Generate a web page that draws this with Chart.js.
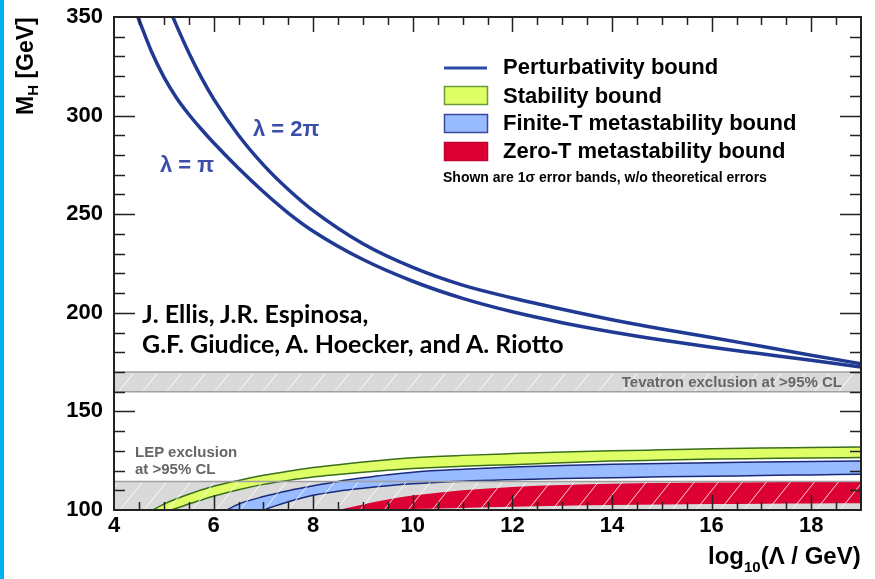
<!DOCTYPE html>
<html>
<head>
<meta charset="utf-8">
<script src="https://cdn.jsdelivr.net/npm/chart.js@4.4.1/dist/chart.umd.min.js"></script>
<style>
  html, body { margin: 0; padding: 0; background: #fff; }
  #wrap { position: relative; width: 875px; height: 579px; overflow: hidden; font-family: "Liberation Sans", Arial, sans-serif; }
  #bar { position: absolute; left: 0; top: 0; width: 4px; height: 579px; background: #00b0f0; }
  .t { position: absolute; white-space: nowrap; line-height: 1; font-weight: bold; }
  .leg { font-size: 22px; color: #000; left: 503px; }
  .grey { font-size: 15px; color: #666; }
  .lam { font-size: 22px; color: #3b4fa8; }
  .auth { font-family: Lato, "Open Sans", sans-serif; font-size: 25px; color: #000; left: 142px; }
</style>
</head>
<body>
<div id="wrap">
  <canvas id="chart" width="875" height="579"></canvas>
  <div id="bar"></div>

  <div class="t" style="left:14px; top:115px; font-size:23px; transform-origin:0 0; transform:rotate(-90deg);">M<span style="font-size:15px; position:relative; top:5px;">H</span> [GeV]</div>
  <div class="t" style="left:708px; top:544px; font-size:24px;">log<span style="font-size:15px; position:relative; top:8px;">10</span>(&Lambda; / GeV)</div>

  <div class="t leg" style="top:56px;">Perturbativity bound</div>
  <div class="t leg" style="top:85px;">Stability bound</div>
  <div class="t leg" style="top:112px;">Finite-T metastability bound</div>
  <div class="t leg" style="top:140px;">Zero-T metastability bound</div>
  <div class="t" style="left:443px; top:170px; font-size:14px;">Shown are 1&sigma; error bands, w/o theoretical errors</div>

  <div class="t lam" style="left:253px; top:118px;">&lambda; = 2&pi;</div>
  <div class="t lam" style="left:160px; top:154px;">&lambda; = &pi;</div>

  <div class="t auth" style="top:301px;">J. Ellis, J.R. Espinosa,</div>
  <div class="t auth" style="top:331px;">G.F. Giudice, A. Hoecker, and A. Riotto</div>

  <div class="t grey" style="left:135px; top:444px;">LEP exclusion</div>
  <div class="t grey" style="left:135px; top:461px;">at &gt;95% CL</div>
  <div class="t grey" style="right:33px; top:374px;">Tevatron exclusion at &gt;95% CL</div>
</div>

<script>
// axis ticks
const xTickLabels = [4, 6, 8, 10, 12, 14, 16, 18];
const yTickLabels = [100, 150, 200, 250, 300, 350];

// exclusion limits (GeV)
const lepLimit = 114.4;
const tevatronLow = 160;
const tevatronHigh = 170;

// band edges, sampled on one log10(Lambda) grid
const bandX = [4, 4.5, 5, 5.5, 6, 6.5, 7, 7.5, 8, 8.5, 9, 9.5, 10, 11, 12, 13, 14, 15, 16, 17, 18, 19];
const stabilityHigh = [90, 96, 103, 108, 112, 115, 117.6, 119.7, 121.5, 123, 124.3, 125.5, 126.5, 127.7, 128.6, 129.4, 130, 130.5, 131, 131.4, 131.7, 132];
const stabilityLow = [86, 92, 98.5, 103, 107, 110.3, 113, 115, 116.7, 118, 119.2, 120.2, 121, 122.2, 123, 124, 124.8, 125.3, 125.8, 126.1, 126.4, 126.6];
const finiteTHigh = [82, 86, 89, 92, 96.5, 103, 106.8, 109.8, 112.3, 114.5, 116.3, 117.9, 119.2, 120.7, 121.8, 122.6, 123.2, 123.6, 124, 124.3, 124.6, 124.9];
const finiteTLow = [75, 80, 84, 88, 91, 95.5, 100, 104.2, 107.5, 109.5, 111, 112.3, 113.3, 114.6, 115.4, 116, 116.4, 116.8, 117.1, 117.5, 117.8, 118.1];
const zeroTHigh = [70, 73, 76, 79, 82, 86, 89, 93, 97, 100, 102.8, 105.3, 107.3, 110, 111.7, 112.7, 113.3, 113.7, 113.9, 114.1, 114.2, 114.3];
const zeroTLow = [100, 100, 100, 100, 100, 100, 100, 100, 100, 100, 100, 100, 100.5, 101, 101.6, 102.1, 102.5, 102.8, 103, 103.2, 103.3, 103.4];

// perturbativity bounds
const pertX = [4.4, 4.5, 4.75, 5, 5.25, 5.5, 5.75, 6, 6.5, 7, 7.5, 8, 9, 10, 11, 12, 13, 14, 15, 16, 17, 18, 19];
const lambdaPi = [355, 348.6, 332.6, 319.6, 309.2, 300.7, 293.2, 286.2, 273.3, 261.4, 250.6, 241.4, 227, 216, 207.3, 200.5, 195, 190.3, 186.2, 182.5, 179.2, 175.9, 172.5];
const lambda2Pi = [405, 395, 378, 361, 346, 332, 319.5, 308.5, 290, 275, 262.5, 251.8, 235, 223, 214, 207.5, 201.8, 196.5, 191.8, 187.5, 183, 178.5, 174.2];

const canvas = document.getElementById("chart");
const ctx = canvas.getContext("2d");

function pts(xs, ys) {
    return xs.map((x, i) => ({ x: x, y: ys[i] }));
}
function flat(v) {
    return [{ x: 4, y: v }, { x: 19, y: v }];
}

// diagonal white hatch used on the exclusion bands
function hatch(bg) {
    const tile = document.createElement("canvas");
    tile.width = 24; tile.height = 30;
    const g = tile.getContext("2d");
    if (bg) { g.fillStyle = bg; g.fillRect(0, 0, 24, 30); }
    g.strokeStyle = "rgba(255,255,255,0.85)";
    g.lineWidth = 1;
    g.beginPath();
    g.moveTo(-24, 30); g.lineTo(0, 0);
    g.moveTo(0, 30); g.lineTo(24, 0);
    g.moveTo(24, 30); g.lineTo(48, 0);
    g.stroke();
    return ctx.createPattern(tile, "repeat");
}

const edge = { pointRadius: 0, cubicInterpolationMode: "monotone", fill: false };

const datasets = [
    { ...edge, label: "LEP grey", data: flat(lepLimit), borderWidth: 0, fill: "start", backgroundColor: "#d9d9d9", order: 100 },
    { ...edge, label: "Tev low", data: flat(tevatronLow), borderColor: "#a0a0a0", borderWidth: 1.5, order: 90 },
    { ...edge, label: "Tevatron", data: flat(tevatronHigh), borderColor: "#a0a0a0", borderWidth: 1.5, fill: "-1", backgroundColor: hatch("#d9d9d9"), order: 91 },
    { ...edge, label: "Stab low", data: pts(bandX, stabilityLow), borderColor: "#3a6e1e", borderWidth: 1.5, order: 79 },
    { ...edge, label: "Stability bound", data: pts(bandX, stabilityHigh), borderColor: "#3a6e1e", borderWidth: 1.5, fill: "-1", backgroundColor: "#dfff66", order: 80 },
    { ...edge, label: "FT low", data: pts(bandX, finiteTLow), borderColor: "#1a2a7a", borderWidth: 1.5, order: 69 },
    { ...edge, label: "Finite-T", data: pts(bandX, finiteTHigh), borderColor: "#1a2a7a", borderWidth: 1.5, fill: "-1", backgroundColor: "#99bbff", order: 70 },
    { ...edge, label: "ZT low", data: pts(bandX, zeroTLow), borderWidth: 0, order: 59 },
    { ...edge, label: "Zero-T", data: pts(bandX, zeroTHigh), borderWidth: 0, fill: "-1", backgroundColor: "#dd0033", order: 60 },
    { ...edge, label: "LEP hatch", data: flat(lepLimit), borderColor: "#a0a0a0", borderWidth: 1.5, fill: "start", backgroundColor: hatch(null), order: 50 },
    { ...edge, label: "lambda = pi", data: pts(pertX, lambdaPi), borderColor: "#203a94", borderWidth: 3.5, order: 40 },
    { ...edge, label: "lambda = 2pi", data: pts(pertX, lambda2Pi), borderColor: "#203a94", borderWidth: 3.5, order: 40 }
];

// frame on all four sides with inward ticks
const frameTicks = {
    id: "frameTicks",
    afterDraw(chart) {
        const a = chart.chartArea;
        const xs = chart.scales.x, ys = chart.scales.y;
        const c = chart.ctx;
        c.save();
        c.strokeStyle = "#222";
        c.lineWidth = 1.5;
        c.beginPath();
        for (let v = 4.5; v < 19; v += 0.5) {
            const px = Math.round(xs.getPixelForValue(v)) + 0.5;
            const len = v % 2 === 0 ? 15 : 8;
            c.moveTo(px, a.bottom); c.lineTo(px, a.bottom - len);
            c.moveTo(px, a.top); c.lineTo(px, a.top + len);
        }
        for (let v = 110; v < 350; v += 10) {
            const py = Math.round(ys.getPixelForValue(v)) + 0.5;
            const len = v % 50 === 0 ? 21 : 11;
            c.moveTo(a.left, py); c.lineTo(a.left + len, py);
            c.moveTo(a.right, py); c.lineTo(a.right - len, py);
        }
        c.stroke();
        c.lineWidth = 2;
        c.strokeRect(a.left, a.top, a.right - a.left, a.bottom - a.top);
        // legend swatches
        c.lineWidth = 3;
        c.strokeStyle = "#2a4aa8";
        c.beginPath(); c.moveTo(444, 68); c.lineTo(487, 68); c.stroke();
        const boxes = [[86, "#dfff66", "#6a9a3a"], [114, "#99bbff", "#3a4a9a"], [142, "#dd0033", "#c00030"]];
        c.lineWidth = 1.5;
        boxes.forEach(b => {
            c.fillStyle = b[1]; c.strokeStyle = b[2];
            c.fillRect(444, b[0], 44, 19);
            c.strokeRect(444.5, b[0] + 0.5, 43, 18);
        });
        c.restore();
    }
};

new Chart(ctx, {
    type: "line",
    data: { datasets: datasets },
    options: {
        responsive: false,
        animation: false,
        events: [],
        layout: { padding: { top: 17, right: 14, left: 0, bottom: 0 } },
        plugins: { legend: { display: false }, tooltip: { enabled: false } },
        scales: {
            x: {
                type: "linear", min: 4, max: 19,
                afterFit(scale) { scale.height = 69; scale.paddingLeft = 0; scale.paddingRight = 0; },
                afterBuildTicks(scale) { scale.ticks = xTickLabels.map(v => ({ value: v })); },
                grid: { display: false, drawTicks: false },
                border: { display: false },
                ticks: { color: "#000", padding: 3, maxRotation: 0, autoSkip: false,
                         font: { family: "Liberation Sans", weight: "bold", size: 22 } }
            },
            y: {
                type: "linear", min: 100, max: 350,
                afterFit(scale) { scale.width = 114; scale.paddingTop = 0; scale.paddingBottom = 0; },
                afterBuildTicks(scale) { scale.ticks = yTickLabels.map(v => ({ value: v })); },
                grid: { display: false, drawTicks: false },
                border: { display: false },
                ticks: { color: "#000", padding: 11,
                         font: { family: "Liberation Sans", weight: "bold", size: 22 } }
            }
        }
    },
    plugins: [frameTicks]
});
</script>
</body>
</html>
